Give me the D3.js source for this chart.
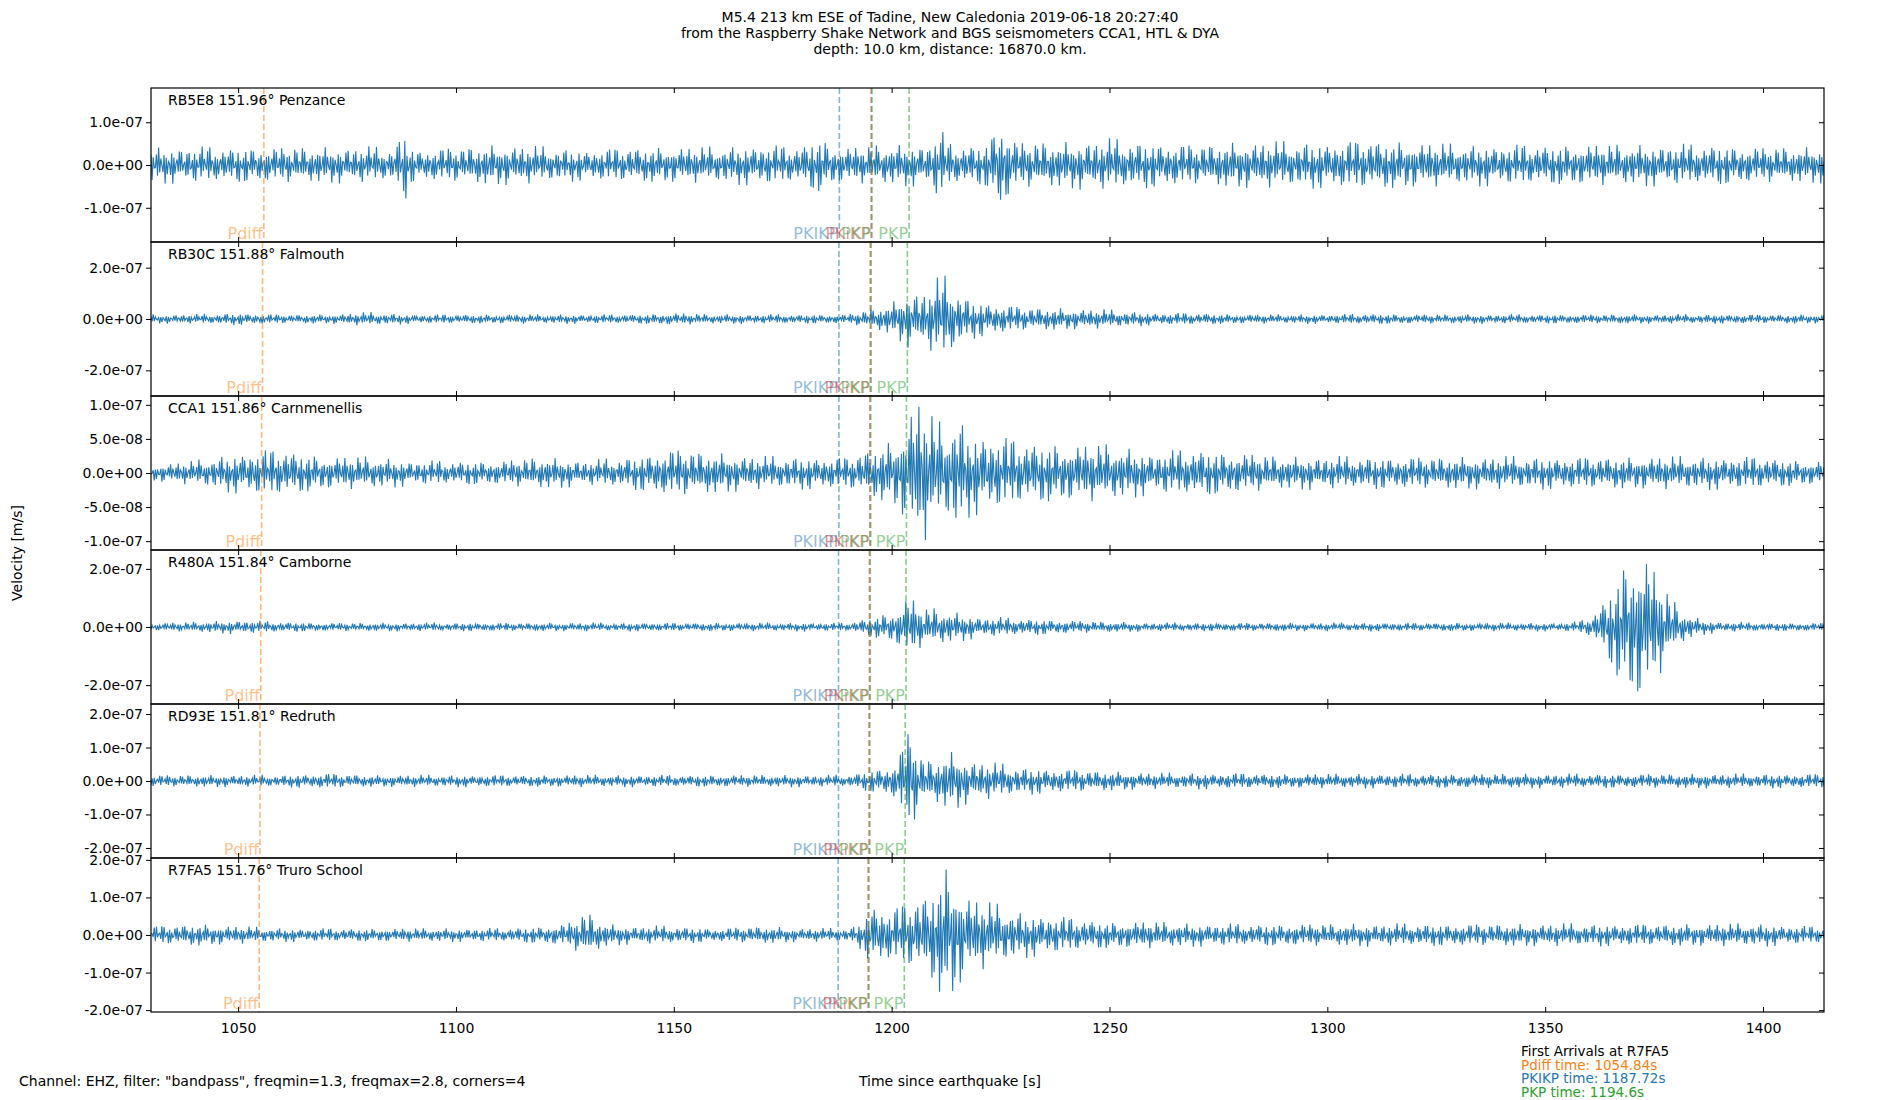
<!DOCTYPE html>
<html>
<head>
<meta charset="utf-8">
<script src="https://cdn.jsdelivr.net/npm/d3@7"></script>
<style>
  body { margin: 0; background: #fff; }
  text { font-family: "DejaVu Sans", sans-serif; }
</style>
</head>
<body>
<div id="wrapper"></div>
<script>
// data
const titleLines = [
  "M5.4 213 km ESE of Tadine, New Caledonia 2019-06-18 20:27:40",
  "from the Raspberry Shake Network and BGS seismometers CCA1, HTL & DYA",
  "depth: 10.0 km, distance: 16870.0 km."
]
const stations = ["RB5E8 151.96° Penzance", "RB30C 151.88° Falmouth", "CCA1 151.86° Carnmenellis",
  "R480A 151.84° Camborne", "RD93E 151.81° Redruth", "R7FA5 151.76° Truro School"]
const yLimits = [1.8e-7, 3.0e-7, 1.13e-7, 2.65e-7, 2.3e-7, 2.05e-7]
const yTicks = [
  [-1e-7, 0, 1e-7],
  [-2e-7, 0, 2e-7],
  [-1e-7, -5e-8, 0, 5e-8, 1e-7],
  [-2e-7, 0, 2e-7],
  [-2e-7, -1e-7, 0, 1e-7, 2e-7],
  [-2e-7, -1e-7, 0, 1e-7, 2e-7]
]
const xTicks = [1050, 1100, 1150, 1200, 1250, 1300, 1350, 1400]
const xDomain = [1030, 1414]

// envelope amplitude (x1e-8 m/s) every 10 s from 1030 s
const envStart = 1030, envStep = 10
const envelopes = [
  [3.5,3.5,3.5,3.5,3.5,3.5,3,3.5,4,3.5,3,3.5,3.5,3.5,4,3.5,3.5,4,4,4,4.5,4.5,5,4.5,4,4.5,4.5,4.5,5,4.5,4,4,4,4,4,4,4,3.5,3.5],
  [1.5,1.5,2,1.5,1.5,2.2,1.5,1.5,1.5,1.5,1.5,1.5,2,1.5,1.5,1.5,1.5,5,8,6,4,3.5,3,2,2,1.5,1.5,1.5,1.8,1.5,1.5,1.5,1.5,1.5,1.5,1.5,1.5,1.5,1.5],
  [1,1.5,2.5,3,2,2,1.5,1.5,1.5,2,1.5,2,3,2.5,2,2,2,4,6,5,4,3.5,3.5,2.5,3,2.5,2,2,2,2,2,2,2,2,2,2,2,2,1.5],
  [1,1.5,2,1.5,1.2,1.2,1.2,1.2,1.2,1.2,1.2,1.2,1.2,1.2,1.2,1.2,1.2,4.5,5.5,3,2.5,2,1.5,1.2,1.2,1.2,1.2,1.2,1.2,1.2,1.2,1.2,1.2,1.2,2,3,1.5,1.2,1.2],
  [1.5,1.5,1.5,1.5,2,1.5,1.5,1.5,1.5,1.5,1.5,1.5,1.5,1.5,1.5,1.5,1.5,4,5.5,5,3.5,3,2.5,2,2,2,1.8,1.8,1.8,1.8,1.8,1.8,1.8,1.8,1.8,1.8,1.8,1.8,1.8],
  [2,2.5,2,1.5,1.5,1.5,1.5,1.5,1.5,2,3,2,2,1.5,2,1.5,1.5,6,10,8,5,4,3,3,2.5,2.5,2.5,2.5,2.5,2.5,2.5,2.5,2.5,2.5,2.5,2.5,2.5,2.5,2]
]
// bursts: [time s, extra amplitude x1e-8, half width s]
const bursts = [
  [[1088, 4, 1], [1225, 5, 1.5], [1211, 3, 1], [1183, 2, 2]],
  [[1212, 6, 2.5], [1204, 3, 2]],
  [[1206, 4, 2], [1215, 2, 1]],
  [[1371, 20, 5], [1204, 4, 1.5]],
  [[1204, 8, 1.5], [1214, 2, 2]],
  [[1213, 6, 2], [1196, 3, 1.5], [1130, 2, 2]]
]
// amplitude wiggle pattern
const wiggle = [0.55, 0.9, 0.7, 1.0, 0.45, 0.8, 0.6, 0.95, 0.5, 0.75, 0.35, 0.85, 0.65, 1.0, 0.4, 0.7, 0.6]

// arrivals per station [Pdiff, PKIKP, PKiKP, PKP, PKP]
const phaseNames = ["Pdiff", "PKIKP", "PKiKP", "PKP", "PKP"]
const phaseColors = ["#ff7f0e", "#1f77b4", "#d62728", "#2ca02c", "#2ca02c"]
const arrivals = [
  [1055.9, 1188.0, 1195.3, 1195.5, 1204.0],
  [1055.6, 1187.9, 1195.1, 1195.3, 1203.6],
  [1055.4, 1187.9, 1195.0, 1195.2, 1203.4],
  [1055.2, 1187.8, 1194.9, 1195.1, 1203.3],
  [1055.0, 1187.8, 1194.8, 1195.0, 1203.1],
  [1054.84, 1187.72, 1194.6, 1194.8, 1202.9]
]
const firstArrivals = [
  ["First Arrivals at R7FA5", "#000"],
  ["Pdiff time: 1054.84s", "#ff7f0e"],
  ["PKIKP time: 1187.72s", "#1f77b4"],
  ["PKP time: 1194.6s", "#2ca02c"]
]

const width = 1900, height = 1100
const margin = {top: 88, left: 151, right: 76, bottom: 88}
const plotW = width - margin.left - margin.right
const panelH = (height - margin.top - margin.bottom) / stations.length

const svg = d3.select("#wrapper").append("svg")
  .attr("width", width).attr("height", height)

svg.append("g").selectAll("text").data(titleLines).join("text")
  .attr("x", 950).attr("y", (d, i) => 22 + i * 16)
  .attr("text-anchor", "middle").style("font-size", "14px").text(d => d)

const x = d3.scaleLinear().domain(xDomain).range([0, plotW])

const fmt = v => {
  const s = v.toExponential(1)
  return s.replace(/e([+-])(\d)$/, "e$10$2")
}

const envAt = (k, t) => {
  const e = envelopes[k]
  const f = (t - envStart) / envStep
  const i = Math.max(0, Math.min(e.length - 2, Math.floor(f)))
  const u = Math.min(1, Math.max(0, f - i))
  let a = e[i] * (1 - u) + e[i + 1] * u
  bursts[k].forEach(([bt, ba, bw]) => {
    a += ba * Math.exp(-((t - bt) ** 2) / (2 * bw * bw))
  })
  return a * 1e-8
}

stations.forEach((name, k) => {
  const g = svg.append("g")
    .attr("transform", `translate(${margin.left},${margin.top + k * panelH})`)
  const y = d3.scaleLinear().domain([-yLimits[k], yLimits[k]]).range([panelH, 0])

  g.append("defs").append("clipPath").attr("id", "clip" + k)
    .append("rect").attr("width", plotW).attr("height", panelH)

  // trace
  const pts = []
  const dt = 0.25
  for (let i = 0; xDomain[0] + i * dt <= xDomain[1]; i++) {
    const t = xDomain[0] + i * dt
    const osc = Math.cos(2 * Math.PI * 1.7 * t + k)
    pts.push([t, envAt(k, t) * wiggle[(i + k * 5) % wiggle.length] * osc * 1.25])
  }
  g.append("path").datum(pts)
    .attr("clip-path", `url(#clip${k})`)
    .attr("fill", "none").attr("stroke", "#1f77b4").attr("stroke-width", 1.1)
    .attr("d", d3.line().x(d => x(d[0])).y(d => y(d[1])))

  // arrivals
  arrivals[k].forEach((t, j) => {
    g.append("line")
      .attr("x1", x(t)).attr("x2", x(t)).attr("y1", 0).attr("y2", panelH)
      .attr("stroke", phaseColors[j]).attr("stroke-opacity", 0.55)
      .attr("stroke-width", 1.6).attr("stroke-dasharray", "6,3")
    g.append("text")
      .attr("x", x(t) - 1).attr("y", panelH - 3)
      .attr("text-anchor", "end").attr("fill", phaseColors[j]).attr("fill-opacity", 0.5)
      .style("font-size", "16px").text(phaseNames[j])
  })

  g.append("text").attr("x", 17).attr("y", 17)
    .style("font-size", "14px").text(name)

  // axes
  g.append("g").attr("transform", `translate(0,${panelH})`)
    .call(d3.axisBottom(x).tickValues(xTicks).tickSize(-5)
      .tickFormat(k === stations.length - 1 ? d3.format("d") : ""))
  g.append("g")
    .call(d3.axisTop(x).tickValues(xTicks).tickSize(-5).tickFormat(""))
  g.append("g")
    .call(d3.axisLeft(y).tickValues(yTicks[k]).tickSize(5).tickFormat(fmt))
  g.append("g").attr("transform", `translate(${plotW},0)`)
    .call(d3.axisRight(y).tickValues(yTicks[k]).tickSize(-5).tickFormat(""))
  g.selectAll(".domain").remove()
  g.append("rect").attr("width", plotW).attr("height", panelH)
    .attr("fill", "none").attr("stroke", "#000").attr("stroke-width", 1.2)
})

svg.selectAll(".tick text").style("font-size", "14px")
  .style("font-family", "DejaVu Sans, sans-serif").attr("fill", "#000")
svg.selectAll(".tick line").attr("stroke", "#000")
svg.selectAll(".tick text").filter(function() { return this.textContent && !this.textContent.includes("e") })
  .attr("dy", "1.3em")

svg.append("text").attr("transform", "translate(22,553) rotate(-90)")
  .attr("text-anchor", "middle").style("font-size", "14px").text("Velocity [m/s]")
svg.append("text").attr("x", 950).attr("y", 1086)
  .attr("text-anchor", "middle").style("font-size", "14px").text("Time since earthquake [s]")
svg.append("text").attr("x", 19).attr("y", 1086)
  .style("font-size", "14px").text('Channel: EHZ, filter: "bandpass", freqmin=1.3, freqmax=2.8, corners=4')
svg.append("g").selectAll("text").data(firstArrivals).join("text")
  .attr("x", 1521).attr("y", (d, i) => 1056 + i * 13.5)
  .attr("fill", d => d[1]).style("font-size", "13.5px").text(d => d[0])
</script>
</body>
</html>
